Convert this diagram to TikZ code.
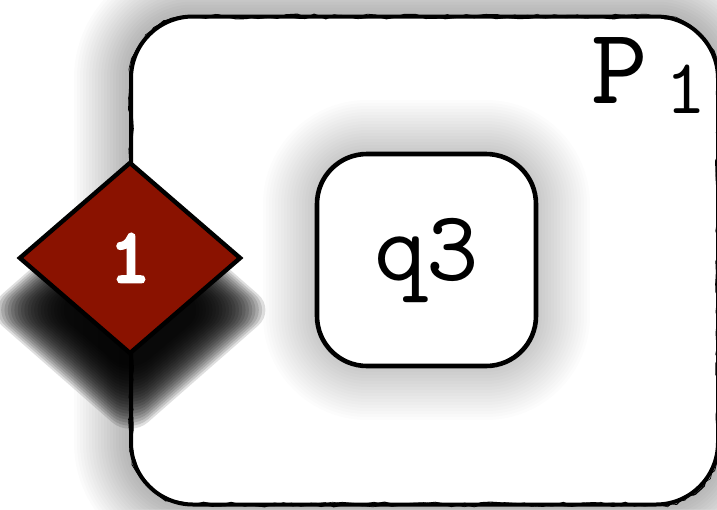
\documentclass[tikz,border=0pt]{standalone}
\usepackage{fontspec}
\setmonofont{lmmono10-regular}[Extension=.otf]
\newfontfamily\ttheavy{lmmonolt10-bold}[Extension=.otf, FakeBold=3]
\usetikzlibrary{shapes.geometric,decorations.pathmorphing}
\definecolor{dred}{RGB}{138,18,0}
\tikzset{
  sketchline/.style={draw=black, line width=#1, sharp corners, decorate,
    decoration={random steps, segment length=10pt, amplitude=2.4pt}},
  outerbox/.style={draw=black, line width=4pt, rounded corners=62pt, outer sep=0pt,
    minimum width=587pt, minimum height=488pt, fill=white,
    postaction={sketchline=1.1pt}, postaction={sketchline=0.8pt}, postaction={sketchline=0.6pt}},
  statebox/.style={draw=black, line width=4.6pt, rounded corners=50pt, fill=white,
    minimum width=219pt, minimum height=212pt, inner sep=0pt,
    font=\fontsize{100}{100}\selectfont\ttfamily},
  portdiamond/.style={shape=diamond, draw=black, line width=4.4pt, fill=dred, inner sep=0pt,
    minimum width=222pt, minimum height=192pt, text=white,
    font=\fontsize{78}{78}\selectfont\ttheavy},
  plabel/.style={inner sep=0pt, font=\fontsize{108}{108}\selectfont\ttfamily},
  softshade/.style={fill=black, draw=none, opacity=#1}
}
\begin{document}
\begin{tikzpicture}[x=1pt,y=-1pt]
\pgfmathsetseed{7}
\useasboundingbox (0,0) rectangle (717,509);
\fill[white] (0,0) rectangle (717,509);
% shadow of the outer box
\foreach \e in {-12,-9,...,57}{
  \pgfmathsetmacro{\r}{62+\e}
  \fill[softshade=0.014, rounded corners=\r pt] (131-\e,16.5-\e) rectangle (718+\e,504.5+\e);
}
\node[outerbox] (box) at (424.5,260.5) {};
\node[plabel, anchor=base west] (plab) at (591,103) {P\hspace{18pt}\raisebox{-10pt}{\fontsize{78}{78}\selectfont 1}};
% shadow of q3
\foreach \e in {-12,-9,...,54}{
  \pgfmathsetmacro{\r}{50+\e}
  \fill[softshade=0.012, rounded corners=\r pt] (317-\e,154-\e) rectangle (536+\e,366+\e);
}
\node[statebox] (q3) at (426.5,260) {q3};
% shadow of the diamond
\foreach \e in {-33,-30,...,30}{
  \pgfmathsetmacro{\w}{113+1.1*\e}
  \pgfmathsetmacro{\h}{98+\e}
  \fill[softshade=0.13, rounded corners=24pt] (130-\w,310) -- (130,310-\h) -- (130+\w,310) -- (130,310+\h) -- cycle;
}
\node[portdiamond] (d1) at (130,258) {1};
\end{tikzpicture}
\end{document}
